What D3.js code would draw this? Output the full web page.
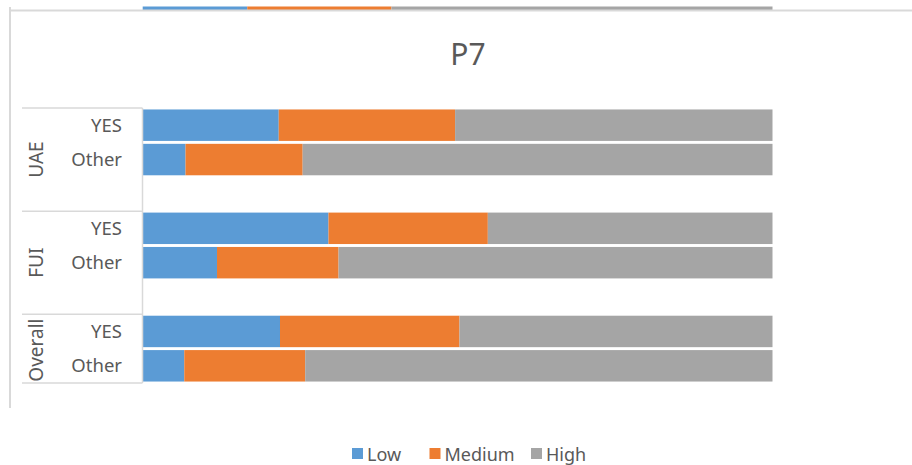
<!DOCTYPE html>
<html>
<head>
<meta charset="utf-8">
<script src="https://cdn.jsdelivr.net/npm/d3@7"></script>
<style>
  html, body { margin: 0; padding: 0; background: #fff; }
  svg { display: block; }
  text { font-family: "Noto Sans", "Open Sans", sans-serif; fill: #595959; }
</style>
</head>
<body>
<svg id="chart" width="912" height="465"></svg>
<script>
// ---- data ----
const title = "P7";
const groups = ["UAE", "FUI", "Overall"];
const slotGroups = ["UAE", "UAE", "UAE", "FUI", "FUI", "FUI", "Overall", "Overall"];
const slotLabels = ["YES", "Other", "", "YES", "Other", "", "YES", "Other"];
const seriesNames = ["Low", "Medium", "High"];
const lowValues    = [21.6, 6.8, null, 29.5, 11.8, null, 21.8, 6.6];
const mediumValues = [28.0, 18.6, null, 25.3, 19.3, null, 28.5, 19.2];
const highValues   = [50.4, 74.6, null, 45.2, 68.9, null, 49.7, 74.2];
// remnant of the chart above (cropped at top of picture)
const prevValues = [16.6, 22.9, 60.5];

const colors = ["#5B9BD5", "#ED7D31", "#A5A5A5"];

// ---- build ----
const svg = d3.select("#chart");
const slots = slotLabels.map((_, i) => i);

const x = d3.scaleLinear().domain([0, 100]).range([142.7, 772.5]);
const y = d3.scaleBand().domain(slots).range([108, 383])
  .paddingInner(0.085).paddingOuter(0.0425);

const table = slots.map(i => ({
  i, Low: lowValues[i], Medium: mediumValues[i], High: highValues[i]
}));
const stack = d3.stack().keys(seriesNames).value((d, k) => d[k] == null ? 0 : d[k]);
const stacked = stack(table);

// remnant bar at very top
const prevRow = [{ Low: prevValues[0], Medium: prevValues[1], High: prevValues[2] }];
const prevStack = d3.stack().keys(seriesNames)(prevRow);
svg.append("g").selectAll("rect").data(prevStack).join("rect")
  .attr("x", s => x(s[0][0]))
  .attr("width", s => x(s[0][1]) - x(s[0][0]))
  .attr("y", 6.5).attr("height", 3.5)
  .attr("fill", (s, k) => colors[k]);

// chart border (top & left)
const border = svg.append("g").attr("stroke", "#D9D9D9").attr("stroke-width", 2);
border.append("line").attr("x1", 10).attr("x2", 912).attr("y1", 10.5).attr("y2", 10.5);
border.append("line").attr("x1", 10).attr("x2", 10).attr("y1", 7).attr("y2", 408);

// title
svg.append("text").attr("x", 468).attr("y", 65)
  .attr("text-anchor", "middle").attr("font-size", 30).text(title);

// bars
svg.append("g").selectAll("g").data(stacked).join("g")
  .attr("fill", (s, k) => colors[k])
  .selectAll("rect").data(s => s.filter(d => d.data[s.key] != null)).join("rect")
  .attr("x", d => x(d[0]))
  .attr("width", d => x(d[1]) - x(d[0]))
  .attr("y", d => y(d.data.i))
  .attr("height", y.bandwidth());

// category axis (multi-level)
const axisG = svg.append("g");
const axisColor = "#D9D9D9";
axisG.append("line").attr("x1", 142.5).attr("x2", 142.5).attr("y1", 108).attr("y2", 383)
  .attr("stroke", axisColor).attr("stroke-width", 1.5);

const groupBounds = groups.map(g => {
  const idx = slots.filter(i => slotGroups[i] === g);
  const top = y(idx[0]) - y.step() * y.paddingInner() / 2;
  const bottom = y(idx[idx.length - 1]) + y.bandwidth() + y.step() * y.paddingInner() / 2;
  return { g, top, bottom };
});
const lineYs = [108].concat(groupBounds.slice(0, -1).map(b => b.bottom)).concat([383]);
axisG.selectAll("line.sep").data(lineYs).join("line").attr("class", "sep")
  .attr("x1", 22).attr("x2", 142.5)
  .attr("y1", d => d).attr("y2", d => d)
  .attr("stroke", axisColor).attr("stroke-width", 1.5);

axisG.selectAll("text.lab").data(slots.filter(i => slotLabels[i] !== "")).join("text")
  .attr("class", "lab")
  .attr("x", 122).attr("y", i => y(i) + y.bandwidth() / 2)
  .attr("dy", "0.36em").attr("text-anchor", "end").attr("font-size", 18.5)
  .text(i => slotLabels[i]);

axisG.selectAll("text.grp").data(groupBounds).join("text")
  .attr("class", "grp")
  .attr("transform", b => `translate(43,${(b.top + b.bottom) / 2 + (b.g === "Overall" ? 1.5 : 0)}) rotate(-90)`)
  .attr("text-anchor", "middle").attr("font-size", 19)
  .text(b => b.g);

// legend
const legendX = [352, 429.5, 531];
const leg = svg.append("g").selectAll("g").data(seriesNames).join("g")
  .attr("transform", (d, k) => `translate(${legendX[k]},448)`);
leg.append("rect").attr("width", 11).attr("height", 11).attr("fill", (d, k) => colors[k]);
leg.append("text").attr("x", 15).attr("y", 12.5).attr("font-size", 18).text(d => d);
</script>
</body>
</html>
